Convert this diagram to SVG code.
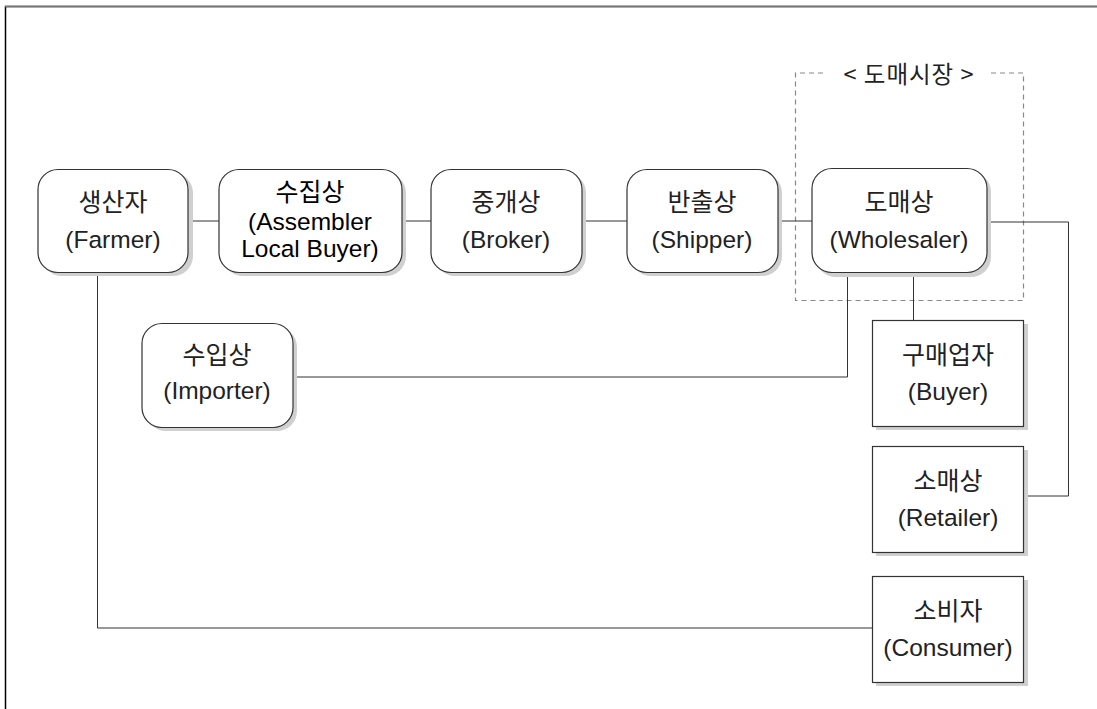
<svg xmlns="http://www.w3.org/2000/svg" width="1097" height="709" viewBox="0 0 1097 709">
<style>
.shadow{fill:#d0d0d0;stroke:none}
.box{fill:#fff;stroke:#333;stroke-width:1.2}
.t{font-family:"Liberation Sans","Noto Sans CJK KR",sans-serif;font-size:24.5px;fill:#222;text-anchor:middle}
.k{font-family:"Noto Sans CJK KR","Liberation Sans",sans-serif;font-size:25px;fill:#222;text-anchor:middle}
.b{fill:#000}
.c{fill:none;stroke:#333;stroke-width:1}
</style>
<rect x="0" y="0" width="1097" height="709" fill="#fff"/>
<path d="M5.5,709 V6.5 H1097" fill="none" stroke="#000" stroke-width="1.5"/>
<line x1="5" y1="6.5" x2="1097" y2="6.5" stroke="#777" stroke-width="1.5"/>
<g id="market">
<path d="M823,73 H795.5 V300.5 H1023.5 V73 H990" fill="none" stroke="#888" stroke-width="1.2" stroke-dasharray="5,4"/>
<text class="k" x="909" y="83" style="font-size:23.5px;letter-spacing:1px">&lt; 도매시장 &gt;</text>
</g>
<g id="connectors">
<line class="c" x1="193" y1="221" x2="219" y2="221"/>
<line class="c" x1="402" y1="221" x2="431" y2="221"/>
<line class="c" x1="582" y1="221" x2="627" y2="221"/>
<line class="c" x1="778" y1="221" x2="812" y2="221"/>
<polyline class="c" points="987,222 1068.5,222 1068.5,496 1024,496"/>
<polyline class="c" points="293,377 847.5,377 847.5,273"/>
<line class="c" x1="913.5" y1="273" x2="913.5" y2="320"/>
<polyline class="c" points="97.5,273 97.5,628 872,628"/>
</g>
<g id="farmer">
<rect class="shadow" x="42" y="173" width="151" height="103" rx="20"/>
<rect class="box" x="38" y="169.5" width="150" height="103" rx="20"/>
<text class="k" x="113" y="211">생산자</text>
<text class="t" x="113" y="248">(Farmer)</text>
</g>
<g id="assembler">
<rect class="shadow" x="223" y="173" width="183" height="103" rx="20"/>
<rect class="box" x="219" y="169.5" width="183" height="103" rx="20"/>
<text class="k b" x="310" y="201">수집상</text>
<text class="t b" x="310" y="230">(Assembler</text>
<text class="t b" x="310" y="257">Local Buyer)</text>
</g>
<g id="broker">
<rect class="shadow" x="435" y="173" width="151" height="103" rx="20"/>
<rect class="box" x="431" y="169.5" width="151" height="103" rx="20"/>
<text class="k" x="506" y="211">중개상</text>
<text class="t" x="506" y="248">(Broker)</text>
</g>
<g id="shipper">
<rect class="shadow" x="631" y="173" width="151" height="103" rx="20"/>
<rect class="box" x="627" y="169.5" width="151" height="103" rx="20"/>
<text class="k" x="702" y="211">반출상</text>
<text class="t" x="702" y="248">(Shipper)</text>
</g>
<g id="wholesaler">
<rect class="shadow" x="816" y="172" width="175" height="105" rx="20"/>
<rect class="box" x="812" y="168.5" width="175" height="104" rx="20"/>
<text class="k" x="899" y="211">도매상</text>
<text class="t" x="899" y="248">(Wholesaler)</text>
</g>
<g id="importer">
<rect class="shadow" x="146" y="327" width="151" height="104" rx="20"/>
<rect class="box" x="142" y="323.5" width="151" height="104" rx="20"/>
<text class="k" x="217" y="364">수입상</text>
<text class="t" x="217" y="399">(Importer)</text>
</g>
<g id="buyer">
<rect class="shadow" x="876" y="324" width="152" height="106"/>
<rect class="box" x="872.5" y="320.5" width="151" height="106"/>
<text class="k" x="948" y="364">구매업자</text>
<text class="t" x="948" y="400">(Buyer)</text>
</g>
<g id="retailer">
<rect class="shadow" x="876" y="450" width="152" height="106"/>
<rect class="box" x="872.5" y="446.5" width="151" height="106"/>
<text class="k" x="948" y="490">소매상</text>
<text class="t" x="948" y="526">(Retailer)</text>
</g>
<g id="consumer">
<rect class="shadow" x="876" y="580" width="152" height="106"/>
<rect class="box" x="872.5" y="576.5" width="151" height="106"/>
<text class="k" x="948" y="620">소비자</text>
<text class="t" x="948" y="656">(Consumer)</text>
</g>
</svg>
